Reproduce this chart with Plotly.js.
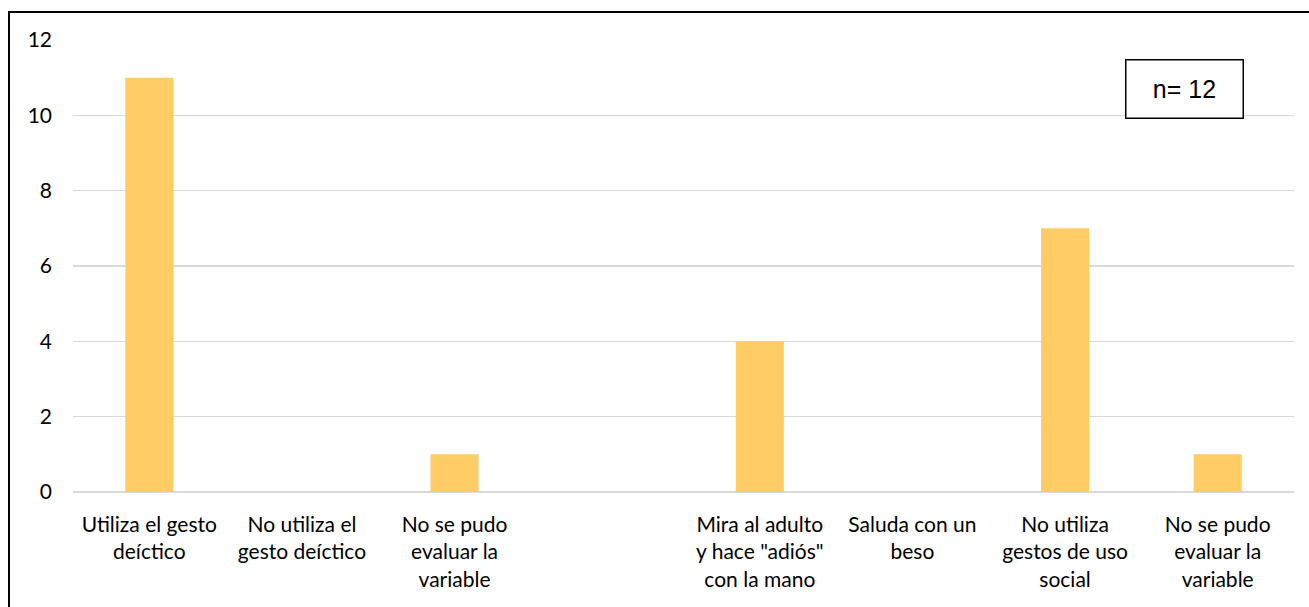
<!DOCTYPE html>
<html>
<head>
<meta charset="utf-8">
<script src="https://cdn.plot.ly/plotly-3.0.1.min.js"></script>
<style>
  html, body { margin: 0; padding: 0; background: #fff; }
  #wrap { position: relative; width: 1309px; height: 607px; overflow: hidden; }
  #chart { position: absolute; left: 0; top: 0; width: 1309px; height: 607px; }
  #frame { position: absolute; left: 8px; top: 11px; width: 1400px; height: 700px;
           border-left: 2px solid #000; border-top: 2px solid #000; pointer-events: none; }
</style>
</head>
<body>
<div id="wrap">
  <div id="chart"></div>
  <div id="frame"></div>
</div>
<script>
const categories = [
  "Utiliza el gesto<br>deíctico",
  "No utiliza el<br>gesto deíctico",
  "No se pudo<br>evaluar la<br>variable",
  "",
  "Mira al adulto<br>y hace \"adiós\"<br>con la mano",
  "Saluda con un<br>beso",
  "No utiliza<br>gestos de uso<br>social",
  "No se pudo<br>evaluar la<br>variable"
];
const values = [11, 0, 1, null, 4, 0, 7, 1];
const yTicks = [0, 2, 4, 6, 8, 10, 12];
const noteText = "n= 12";

const positions = categories.map((_, i) => i);

const trace = {
  type: "bar",
  x: positions,
  y: values,
  marker: { color: "#FFCC66", line: { width: 0 } },
  hoverinfo: "skip"
};

const layout = {
  width: 1309,
  height: 607,
  margin: { l: 73, r: 15, t: 40, b: 115 },
  paper_bgcolor: "#ffffff",
  plot_bgcolor: "#ffffff",
  showlegend: false,
  bargap: 0.685,
  font: { family: "Lato, 'Open Sans', sans-serif", color: "#000", size: 21 },
  xaxis: {
    tickmode: "array",
    tickvals: positions,
    ticktext: categories,
    range: [-0.5, categories.length - 0.5],
    showgrid: false,
    zeroline: false,
    showline: false,
    ticks: "",
    tickangle: 0,
    tickfont: { family: "Lato, sans-serif", size: 21, color: "#000" },
    ticklabelstandoff: 18,
    fixedrange: true
  },
  yaxis: {
    range: [0, 12],
    tickmode: "array",
    tickvals: yTicks,
    ticktext: yTicks.map(String),
    showgrid: true,
    gridcolor: "#d9d9d9",
    gridwidth: 1.5,
    zeroline: true,
    zerolinecolor: "#d9d9d9",
    zerolinewidth: 1.5,
    showline: false,
    ticks: "",
    tickfont: { family: "Lato, sans-serif", size: 21, color: "#000" },
    ticklabelstandoff: 20,
    fixedrange: true
  },
  annotations: [{
    xref: "paper", yref: "paper",
    x: 0.9107, y: 0.8905,
    xanchor: "center", yanchor: "middle",
    text: noteText,
    showarrow: false,
    font: { family: "'Liberation Sans', Arial, sans-serif", size: 25, color: "#000" },
    bgcolor: "#ffffff",
    bordercolor: "#000",
    borderwidth: 1.5,
    borderpad: 2,
    width: 112,
    height: 53
  }]
};

Plotly.newPlot("chart", [trace], layout, { displayModeBar: false, staticPlot: true });
</script>
</body>
</html>
